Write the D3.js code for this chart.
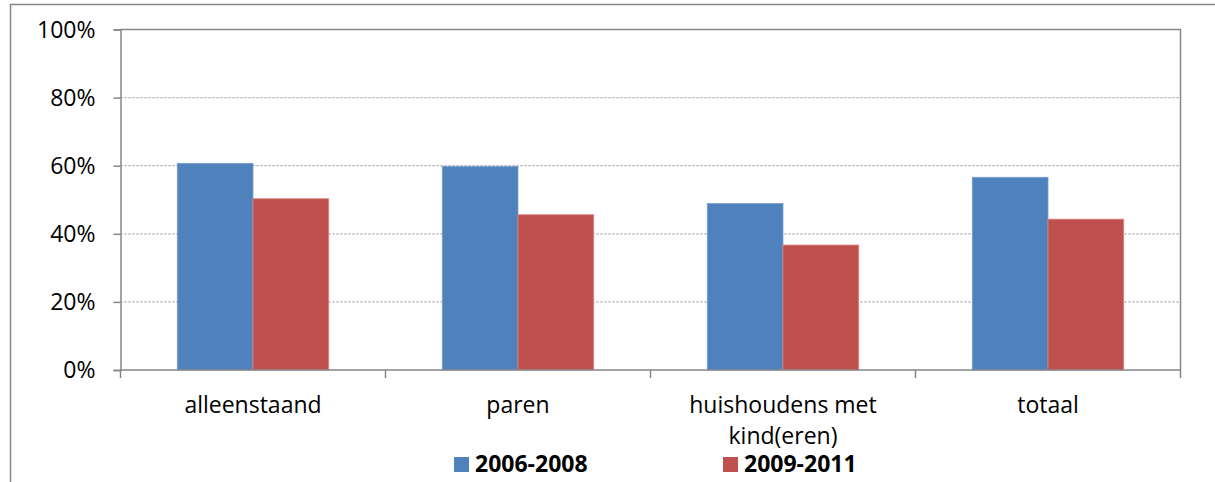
<!DOCTYPE html>
<html>
<head>
<meta charset="utf-8">
<script src="https://cdn.jsdelivr.net/npm/d3@7"></script>
<style>
  html, body { margin: 0; padding: 0; background: #fff; }
  svg { display: block; font-family: "Open Sans", sans-serif; }
</style>
</head>
<body>
<div id="chart"></div>
<script>
// categories and series (percentages)
const categories = ['alleenstaand', 'paren', 'huishoudens met kind(eren)', 'totaal'];
const categoryLines = [['alleenstaand'], ['paren'], ['huishoudens met', 'kind(eren)'], ['totaal']];
const seriesNames = ['2006-2008', '2009-2011'];
const values2006 = [60.7, 59.8, 48.9, 56.6];
const values2009 = [50.3, 45.6, 36.7, 44.3];
const yTicks = [0, 20, 40, 60, 80, 100];
const colors = ['#4F81BD', '#C0504D'];

const width = 1215;
const height = 482;
const plot = { left: 120.5, right: 1180.5, top: 29.5, bottom: 370 };
const fontSize = 23;

const svg = d3.select('#chart')
  .append('svg')
    .attr('width', width)
    .attr('height', height);

// outer frame (only top and left visible)
svg.append('path')
  .attr('d', `M10.5,${height} V4.5 H${width}`)
  .attr('fill', 'none')
  .attr('stroke', '#868686')
  .attr('stroke-width', 1.5);

const x = d3.scaleBand()
  .domain(categories)
  .range([plot.left, plot.right])
  .paddingInner(0)
  .paddingOuter(0);

// Excel style gap width 150% -> bars take 2 / 3.5 of the band
const barW = x.bandwidth() / 3.5;
const xSub = d3.scaleBand()
  .domain(seriesNames)
  .range([x.bandwidth() / 2 - barW, x.bandwidth() / 2 + barW]);

const y = d3.scaleLinear()
  .domain([0, 100])
  .range([plot.bottom, plot.top]);

// dotted gridlines
svg.append('g')
  .selectAll('line')
  .data(yTicks.filter(t => t > 0 && t < 100))
  .enter()
  .append('line')
    .attr('x1', plot.left)
    .attr('x2', plot.right)
    .attr('y1', d => y(d))
    .attr('y2', d => y(d))
    .attr('stroke', '#A6A6A6')
    .attr('stroke-width', 1.3)
    .attr('stroke-dasharray', '2,2');

// plot area border: top and right
svg.append('path')
  .attr('d', `M${plot.left},${plot.top} H${plot.right} V${plot.bottom}`)
  .attr('fill', 'none')
  .attr('stroke', '#868686')
  .attr('stroke-width', 1.5);

// bars
const rows = categories.map((c, i) => ({ cat: c, vals: [values2006[i], values2009[i]] }));
const groups = svg.append('g')
  .selectAll('g')
  .data(rows)
  .enter()
  .append('g')
    .attr('transform', d => `translate(${x(d.cat)},0)`);

groups.selectAll('rect')
  .data(d => d.vals.map((v, j) => ({ key: seriesNames[j], v, j })))
  .enter()
  .append('rect')
    .attr('x', d => xSub(d.key))
    .attr('width', xSub.bandwidth())
    .attr('y', d => y(d.v))
    .attr('height', d => y(0) - y(d.v))
    .attr('fill', d => colors[d.j])
    .attr('stroke', d => d.j === 0 ? '#7A9FD0' : '#D98482')
    .attr('stroke-width', 0.8);

// y axis
const yAxis = d3.axisLeft(y)
  .tickValues(yTicks)
  .tickSize(7)
  .tickPadding(18)
  .tickFormat(d => d + '%');

const yg = svg.append('g')
  .attr('transform', `translate(${plot.left},0)`)
  .call(yAxis);
yg.select('.domain').attr('stroke', '#868686').attr('stroke-width', 1.5);
yg.selectAll('.tick line').attr('stroke', '#868686').attr('stroke-width', 1.5);
yg.selectAll('.tick text')
  .attr('font-family', '"Open Sans", sans-serif')
  .attr('font-size', fontSize)
  .attr('fill', '#000')
  .attr('dy', '0.34em');

// x axis line and boundary ticks
svg.append('line')
  .attr('x1', plot.left).attr('x2', plot.right)
  .attr('y1', plot.bottom).attr('y2', plot.bottom)
  .attr('stroke', '#868686').attr('stroke-width', 1.5);

const boundaries = categories.map(c => x(c)).concat([plot.right]);
svg.append('g')
  .selectAll('line')
  .data(boundaries)
  .enter()
  .append('line')
    .attr('x1', d => d).attr('x2', d => d)
    .attr('y1', plot.bottom).attr('y2', plot.bottom + 8)
    .attr('stroke', '#868686').attr('stroke-width', 1.5);

// category labels
const labels = svg.append('g')
  .selectAll('text')
  .data(categories)
  .enter()
  .append('text')
    .attr('text-anchor', 'middle')
    .attr('font-size', fontSize)
    .attr('fill', '#000');
labels.each(function(c, i) {
  const cx = x(c) + x.bandwidth() / 2;
  d3.select(this).selectAll('tspan')
    .data(categoryLines[i])
    .enter()
    .append('tspan')
      .attr('x', cx)
      .attr('y', (d, k) => 413 + k * 31)
      .text(d => d);
});

// legend
const legendX = [454, 723];
const legend = svg.append('g')
  .selectAll('g')
  .data(seriesNames)
  .enter()
  .append('g')
    .attr('transform', (d, i) => `translate(${legendX[i]},457)`);
legend.append('rect')
  .attr('width', 15).attr('height', 15)
  .attr('fill', (d, i) => colors[i]);
legend.append('text')
  .attr('x', 21)
  .attr('y', 14.5)
  .attr('font-size', 23)
  .attr('font-weight', 'bold')
  .attr('fill', '#000')
  .text(d => d);
</script>
</body>
</html>
